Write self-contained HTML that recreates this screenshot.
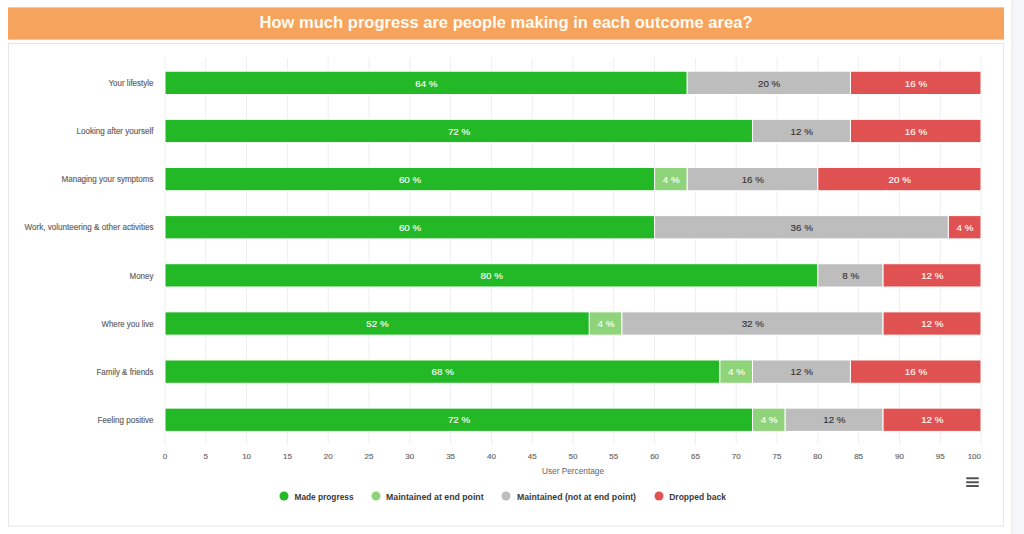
<!DOCTYPE html>
<html><head><meta charset="utf-8">
<style>
html,body{margin:0;padding:0;background:#fff;width:1024px;height:534px;overflow:hidden}
svg{display:block;font-family:"Liberation Sans",sans-serif}
</style></head><body>
<svg width="1024" height="534" viewBox="0 0 1024 534">
<rect x="0" y="0" width="1024" height="534" fill="#ffffff"/>
<rect x="1011" y="0" width="13" height="534" fill="#f5f6f9"/><rect x="1011" y="0" width="2" height="534" fill="#eff0f3"/>
<rect x="8" y="7.4" width="996" height="32.2" fill="#f5a35d"/>
<text x="506" y="28" text-anchor="middle" font-size="17" font-weight="bold" fill="#fffbf2" textLength="493" lengthAdjust="spacingAndGlyphs">How much progress are people making in each outcome area?</text>
<rect x="8.5" y="43.5" width="995" height="482.5" fill="#ffffff" stroke="#e5e8ea" stroke-width="1"/>

<line x1="165.0" y1="58" x2="165.0" y2="444" stroke="#eeeeee" stroke-width="1"/>
<line x1="205.8" y1="58" x2="205.8" y2="444" stroke="#eeeeee" stroke-width="1"/>
<line x1="246.6" y1="58" x2="246.6" y2="444" stroke="#eeeeee" stroke-width="1"/>
<line x1="287.4" y1="58" x2="287.4" y2="444" stroke="#eeeeee" stroke-width="1"/>
<line x1="328.2" y1="58" x2="328.2" y2="444" stroke="#eeeeee" stroke-width="1"/>
<line x1="369.0" y1="58" x2="369.0" y2="444" stroke="#eeeeee" stroke-width="1"/>
<line x1="409.8" y1="58" x2="409.8" y2="444" stroke="#eeeeee" stroke-width="1"/>
<line x1="450.6" y1="58" x2="450.6" y2="444" stroke="#eeeeee" stroke-width="1"/>
<line x1="491.4" y1="58" x2="491.4" y2="444" stroke="#eeeeee" stroke-width="1"/>
<line x1="532.2" y1="58" x2="532.2" y2="444" stroke="#eeeeee" stroke-width="1"/>
<line x1="573.0" y1="58" x2="573.0" y2="444" stroke="#eeeeee" stroke-width="1"/>
<line x1="613.8" y1="58" x2="613.8" y2="444" stroke="#eeeeee" stroke-width="1"/>
<line x1="654.6" y1="58" x2="654.6" y2="444" stroke="#eeeeee" stroke-width="1"/>
<line x1="695.4" y1="58" x2="695.4" y2="444" stroke="#eeeeee" stroke-width="1"/>
<line x1="736.2" y1="58" x2="736.2" y2="444" stroke="#eeeeee" stroke-width="1"/>
<line x1="777.0" y1="58" x2="777.0" y2="444" stroke="#eeeeee" stroke-width="1"/>
<line x1="817.8" y1="58" x2="817.8" y2="444" stroke="#eeeeee" stroke-width="1"/>
<line x1="858.6" y1="58" x2="858.6" y2="444" stroke="#eeeeee" stroke-width="1"/>
<line x1="899.4" y1="58" x2="899.4" y2="444" stroke="#eeeeee" stroke-width="1"/>
<line x1="940.2" y1="58" x2="940.2" y2="444" stroke="#eeeeee" stroke-width="1"/>
<line x1="981.0" y1="58" x2="981.0" y2="444" stroke="#eeeeee" stroke-width="1"/>
<rect x="165.00" y="71.20" width="522.24" height="23.3" fill="#22b826" stroke="#ffffff" stroke-width="1"/>
<text x="426.42" y="86.55" text-anchor="middle" font-size="9.8" fill="#ffffff" stroke="#ffffff" stroke-width="0.12">64 %</text>
<rect x="687.24" y="71.20" width="163.20" height="23.3" fill="#bdbdbd" stroke="#ffffff" stroke-width="1"/>
<text x="769.14" y="86.55" text-anchor="middle" font-size="9.8" fill="#333333" stroke="#333333" stroke-width="0.12">20 %</text>
<rect x="850.44" y="71.20" width="130.56" height="23.3" fill="#e05252" stroke="#ffffff" stroke-width="1"/>
<text x="916.02" y="86.55" text-anchor="middle" font-size="9.8" fill="#ffffff" stroke="#ffffff" stroke-width="0.12">16 %</text>
<text x="153.5" y="86.05" text-anchor="end" font-size="8.5" fill="#606060" stroke="#606060" stroke-width="0.15" textLength="45" lengthAdjust="spacingAndGlyphs">Your lifestyle</text>
<rect x="165.00" y="119.33" width="587.52" height="23.3" fill="#22b826" stroke="#ffffff" stroke-width="1"/>
<text x="459.06" y="134.68" text-anchor="middle" font-size="9.8" fill="#ffffff" stroke="#ffffff" stroke-width="0.12">72 %</text>
<rect x="752.52" y="119.33" width="97.92" height="23.3" fill="#bdbdbd" stroke="#ffffff" stroke-width="1"/>
<text x="801.78" y="134.68" text-anchor="middle" font-size="9.8" fill="#333333" stroke="#333333" stroke-width="0.12">12 %</text>
<rect x="850.44" y="119.33" width="130.56" height="23.3" fill="#e05252" stroke="#ffffff" stroke-width="1"/>
<text x="916.02" y="134.68" text-anchor="middle" font-size="9.8" fill="#ffffff" stroke="#ffffff" stroke-width="0.12">16 %</text>
<text x="153.5" y="134.18" text-anchor="end" font-size="8.5" fill="#606060" stroke="#606060" stroke-width="0.15" textLength="77" lengthAdjust="spacingAndGlyphs">Looking after yourself</text>
<rect x="165.00" y="167.46" width="489.60" height="23.3" fill="#22b826" stroke="#ffffff" stroke-width="1"/>
<text x="410.10" y="182.81" text-anchor="middle" font-size="9.8" fill="#ffffff" stroke="#ffffff" stroke-width="0.12">60 %</text>
<rect x="654.60" y="167.46" width="32.64" height="23.3" fill="#8fd47a" stroke="#ffffff" stroke-width="1"/>
<text x="671.22" y="182.81" text-anchor="middle" font-size="9.8" fill="#ffffff" stroke="#ffffff" stroke-width="0.12">4 %</text>
<rect x="687.24" y="167.46" width="130.56" height="23.3" fill="#bdbdbd" stroke="#ffffff" stroke-width="1"/>
<text x="752.82" y="182.81" text-anchor="middle" font-size="9.8" fill="#333333" stroke="#333333" stroke-width="0.12">16 %</text>
<rect x="817.80" y="167.46" width="163.20" height="23.3" fill="#e05252" stroke="#ffffff" stroke-width="1"/>
<text x="899.70" y="182.81" text-anchor="middle" font-size="9.8" fill="#ffffff" stroke="#ffffff" stroke-width="0.12">20 %</text>
<text x="153.5" y="182.31" text-anchor="end" font-size="8.5" fill="#606060" stroke="#606060" stroke-width="0.15" textLength="92" lengthAdjust="spacingAndGlyphs">Managing your symptoms</text>
<rect x="165.00" y="215.59" width="489.60" height="23.3" fill="#22b826" stroke="#ffffff" stroke-width="1"/>
<text x="410.10" y="230.94" text-anchor="middle" font-size="9.8" fill="#ffffff" stroke="#ffffff" stroke-width="0.12">60 %</text>
<rect x="654.60" y="215.59" width="293.76" height="23.3" fill="#bdbdbd" stroke="#ffffff" stroke-width="1"/>
<text x="801.78" y="230.94" text-anchor="middle" font-size="9.8" fill="#333333" stroke="#333333" stroke-width="0.12">36 %</text>
<rect x="948.36" y="215.59" width="32.64" height="23.3" fill="#e05252" stroke="#ffffff" stroke-width="1"/>
<text x="964.98" y="230.94" text-anchor="middle" font-size="9.8" fill="#ffffff" stroke="#ffffff" stroke-width="0.12">4 %</text>
<text x="153.5" y="230.44" text-anchor="end" font-size="8.5" fill="#606060" stroke="#606060" stroke-width="0.15" textLength="129" lengthAdjust="spacingAndGlyphs">Work, volunteering &amp; other activities</text>
<rect x="165.00" y="263.72" width="652.80" height="23.3" fill="#22b826" stroke="#ffffff" stroke-width="1"/>
<text x="491.70" y="279.07" text-anchor="middle" font-size="9.8" fill="#ffffff" stroke="#ffffff" stroke-width="0.12">80 %</text>
<rect x="817.80" y="263.72" width="65.28" height="23.3" fill="#bdbdbd" stroke="#ffffff" stroke-width="1"/>
<text x="850.74" y="279.07" text-anchor="middle" font-size="9.8" fill="#333333" stroke="#333333" stroke-width="0.12">8 %</text>
<rect x="883.08" y="263.72" width="97.92" height="23.3" fill="#e05252" stroke="#ffffff" stroke-width="1"/>
<text x="932.34" y="279.07" text-anchor="middle" font-size="9.8" fill="#ffffff" stroke="#ffffff" stroke-width="0.12">12 %</text>
<text x="153.5" y="278.57" text-anchor="end" font-size="8.5" fill="#606060" stroke="#606060" stroke-width="0.15" textLength="24" lengthAdjust="spacingAndGlyphs">Money</text>
<rect x="165.00" y="311.85" width="424.32" height="23.3" fill="#22b826" stroke="#ffffff" stroke-width="1"/>
<text x="377.46" y="327.20" text-anchor="middle" font-size="9.8" fill="#ffffff" stroke="#ffffff" stroke-width="0.12">52 %</text>
<rect x="589.32" y="311.85" width="32.64" height="23.3" fill="#8fd47a" stroke="#ffffff" stroke-width="1"/>
<text x="605.94" y="327.20" text-anchor="middle" font-size="9.8" fill="#ffffff" stroke="#ffffff" stroke-width="0.12">4 %</text>
<rect x="621.96" y="311.85" width="261.12" height="23.3" fill="#bdbdbd" stroke="#ffffff" stroke-width="1"/>
<text x="752.82" y="327.20" text-anchor="middle" font-size="9.8" fill="#333333" stroke="#333333" stroke-width="0.12">32 %</text>
<rect x="883.08" y="311.85" width="97.92" height="23.3" fill="#e05252" stroke="#ffffff" stroke-width="1"/>
<text x="932.34" y="327.20" text-anchor="middle" font-size="9.8" fill="#ffffff" stroke="#ffffff" stroke-width="0.12">12 %</text>
<text x="153.5" y="326.70" text-anchor="end" font-size="8.5" fill="#606060" stroke="#606060" stroke-width="0.15" textLength="52" lengthAdjust="spacingAndGlyphs">Where you live</text>
<rect x="165.00" y="359.98" width="554.88" height="23.3" fill="#22b826" stroke="#ffffff" stroke-width="1"/>
<text x="442.74" y="375.33" text-anchor="middle" font-size="9.8" fill="#ffffff" stroke="#ffffff" stroke-width="0.12">68 %</text>
<rect x="719.88" y="359.98" width="32.64" height="23.3" fill="#8fd47a" stroke="#ffffff" stroke-width="1"/>
<text x="736.50" y="375.33" text-anchor="middle" font-size="9.8" fill="#ffffff" stroke="#ffffff" stroke-width="0.12">4 %</text>
<rect x="752.52" y="359.98" width="97.92" height="23.3" fill="#bdbdbd" stroke="#ffffff" stroke-width="1"/>
<text x="801.78" y="375.33" text-anchor="middle" font-size="9.8" fill="#333333" stroke="#333333" stroke-width="0.12">12 %</text>
<rect x="850.44" y="359.98" width="130.56" height="23.3" fill="#e05252" stroke="#ffffff" stroke-width="1"/>
<text x="916.02" y="375.33" text-anchor="middle" font-size="9.8" fill="#ffffff" stroke="#ffffff" stroke-width="0.12">16 %</text>
<text x="153.5" y="374.83" text-anchor="end" font-size="8.5" fill="#606060" stroke="#606060" stroke-width="0.15" textLength="57" lengthAdjust="spacingAndGlyphs">Family &amp; friends</text>
<rect x="165.00" y="408.11" width="587.52" height="23.3" fill="#22b826" stroke="#ffffff" stroke-width="1"/>
<text x="459.06" y="423.46" text-anchor="middle" font-size="9.8" fill="#ffffff" stroke="#ffffff" stroke-width="0.12">72 %</text>
<rect x="752.52" y="408.11" width="32.64" height="23.3" fill="#8fd47a" stroke="#ffffff" stroke-width="1"/>
<text x="769.14" y="423.46" text-anchor="middle" font-size="9.8" fill="#ffffff" stroke="#ffffff" stroke-width="0.12">4 %</text>
<rect x="785.16" y="408.11" width="97.92" height="23.3" fill="#bdbdbd" stroke="#ffffff" stroke-width="1"/>
<text x="834.42" y="423.46" text-anchor="middle" font-size="9.8" fill="#333333" stroke="#333333" stroke-width="0.12">12 %</text>
<rect x="883.08" y="408.11" width="97.92" height="23.3" fill="#e05252" stroke="#ffffff" stroke-width="1"/>
<text x="932.34" y="423.46" text-anchor="middle" font-size="9.8" fill="#ffffff" stroke="#ffffff" stroke-width="0.12">12 %</text>
<text x="153.5" y="422.96" text-anchor="end" font-size="8.5" fill="#606060" stroke="#606060" stroke-width="0.15" textLength="56" lengthAdjust="spacingAndGlyphs">Feeling positive</text>
<text x="165.00" y="459" text-anchor="middle" font-size="8" fill="#666666" stroke="#666666" stroke-width="0.15">0</text>
<text x="205.80" y="459" text-anchor="middle" font-size="8" fill="#666666" stroke="#666666" stroke-width="0.15">5</text>
<text x="246.60" y="459" text-anchor="middle" font-size="8" fill="#666666" stroke="#666666" stroke-width="0.15">10</text>
<text x="287.40" y="459" text-anchor="middle" font-size="8" fill="#666666" stroke="#666666" stroke-width="0.15">15</text>
<text x="328.20" y="459" text-anchor="middle" font-size="8" fill="#666666" stroke="#666666" stroke-width="0.15">20</text>
<text x="369.00" y="459" text-anchor="middle" font-size="8" fill="#666666" stroke="#666666" stroke-width="0.15">25</text>
<text x="409.80" y="459" text-anchor="middle" font-size="8" fill="#666666" stroke="#666666" stroke-width="0.15">30</text>
<text x="450.60" y="459" text-anchor="middle" font-size="8" fill="#666666" stroke="#666666" stroke-width="0.15">35</text>
<text x="491.40" y="459" text-anchor="middle" font-size="8" fill="#666666" stroke="#666666" stroke-width="0.15">40</text>
<text x="532.20" y="459" text-anchor="middle" font-size="8" fill="#666666" stroke="#666666" stroke-width="0.15">45</text>
<text x="573.00" y="459" text-anchor="middle" font-size="8" fill="#666666" stroke="#666666" stroke-width="0.15">50</text>
<text x="613.80" y="459" text-anchor="middle" font-size="8" fill="#666666" stroke="#666666" stroke-width="0.15">55</text>
<text x="654.60" y="459" text-anchor="middle" font-size="8" fill="#666666" stroke="#666666" stroke-width="0.15">60</text>
<text x="695.40" y="459" text-anchor="middle" font-size="8" fill="#666666" stroke="#666666" stroke-width="0.15">65</text>
<text x="736.20" y="459" text-anchor="middle" font-size="8" fill="#666666" stroke="#666666" stroke-width="0.15">70</text>
<text x="777.00" y="459" text-anchor="middle" font-size="8" fill="#666666" stroke="#666666" stroke-width="0.15">75</text>
<text x="817.80" y="459" text-anchor="middle" font-size="8" fill="#666666" stroke="#666666" stroke-width="0.15">80</text>
<text x="858.60" y="459" text-anchor="middle" font-size="8" fill="#666666" stroke="#666666" stroke-width="0.15">85</text>
<text x="899.40" y="459" text-anchor="middle" font-size="8" fill="#666666" stroke="#666666" stroke-width="0.15">90</text>
<text x="940.20" y="459" text-anchor="middle" font-size="8" fill="#666666" stroke="#666666" stroke-width="0.15">95</text>
<text x="981" y="459" text-anchor="end" font-size="8" fill="#666666" stroke="#666666" stroke-width="0.15">100</text>
<text x="573" y="474" text-anchor="middle" font-size="8.3" fill="#666666" textLength="62" lengthAdjust="spacingAndGlyphs">User Percentage</text>
<circle cx="284" cy="496" r="4.5" fill="#22b826"/>
<text x="294.5" y="500" font-size="8.5" font-weight="bold" fill="#3a3a3a" textLength="59" lengthAdjust="spacingAndGlyphs">Made progress</text>
<circle cx="376" cy="496" r="4.5" fill="#8fd47a"/>
<text x="386" y="500" font-size="8.5" font-weight="bold" fill="#3a3a3a" textLength="97.6" lengthAdjust="spacingAndGlyphs">Maintained at end point</text>
<circle cx="506" cy="496" r="4.5" fill="#bdbdbd"/>
<text x="517" y="500" font-size="8.5" font-weight="bold" fill="#3a3a3a" textLength="119" lengthAdjust="spacingAndGlyphs">Maintained (not at end point)</text>
<circle cx="659" cy="496" r="4.5" fill="#e05252"/>
<text x="669.2" y="500" font-size="8.5" font-weight="bold" fill="#3a3a3a" textLength="56.7" lengthAdjust="spacingAndGlyphs">Dropped back</text>
<g stroke="#555555" stroke-width="2" stroke-linecap="round"><line x1="967" y1="478.3" x2="978" y2="478.3"/><line x1="967" y1="482.2" x2="978" y2="482.2"/><line x1="967" y1="486.1" x2="978" y2="486.1"/></g>
</svg></body></html>
